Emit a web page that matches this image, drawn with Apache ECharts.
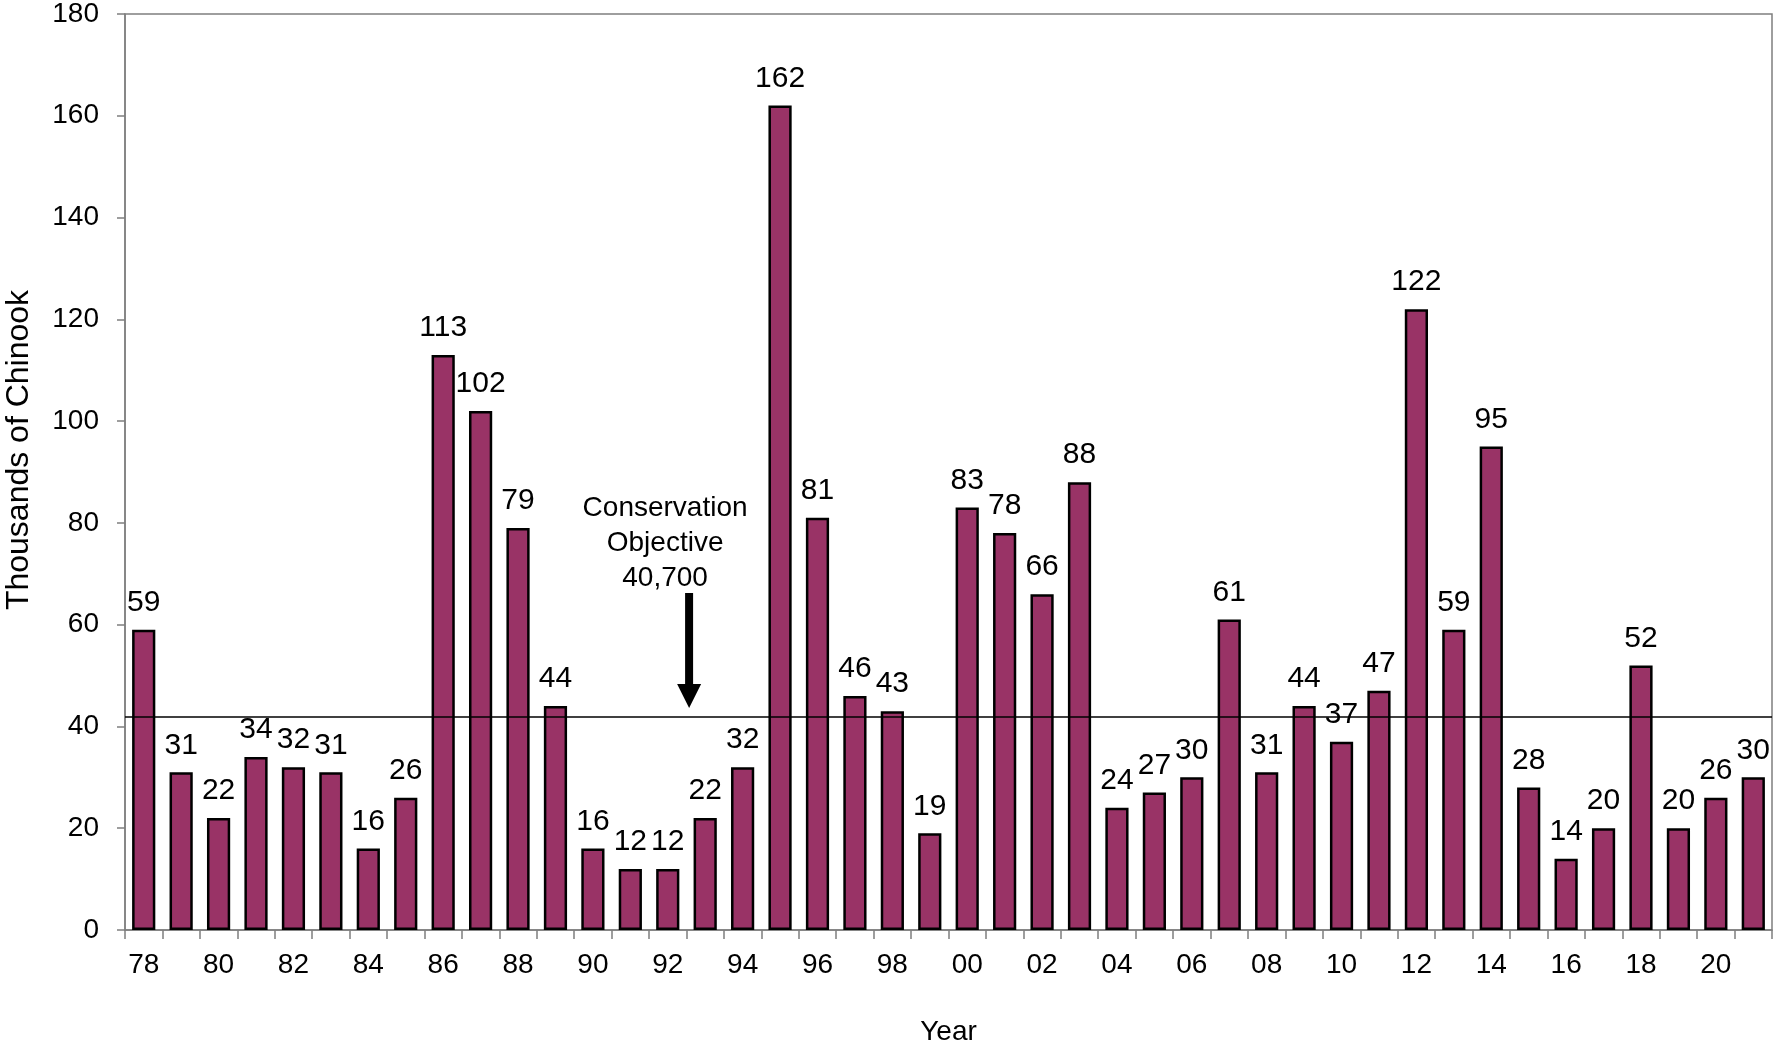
<!DOCTYPE html>
<html>
<head>
<meta charset="utf-8">
<script src="https://cdn.jsdelivr.net/npm/echarts@6/dist/echarts.min.js"></script>
<style>
  html, body { margin: 0; padding: 0; background: #fff; }
  #chart { width: 1773px; height: 1045px; }
</style>
</head>
<body>
<div id="chart"></div>
<script>
// years 1978-2021, shown as two-digit labels
const years = ['78','79','80','81','82','83','84','85','86','87','88','89','90','91','92','93','94','95','96','97','98','99',
  '00','01','02','03','04','05','06','07','08','09','10','11','12','13','14','15','16','17','18','19','20','21'];

// escapement, thousands of chinook
const chinook = [59,31,22,34,32,31,16,26,113,102,79,44,16,12,12,22,32,162,81,46,43,19,
  83,78,66,88,24,27,30,61,31,44,37,47,122,59,95,28,14,20,52,20,26,30];

const yTicks = { min: 0, max: 180, step: 20 };
const objectiveLine = 42;          // where the line sits on the chart
const objectiveText = ['Conservation', 'Objective', '40,700'];

const FONT = '"Liberation Sans", Arial, sans-serif';
const AXIS_GRAY = '#7f7f7f';

const chart = echarts.init(document.getElementById('chart'));

chart.setOption({
  animation: false,
  backgroundColor: '#fff',
  grid: {
    left: 125, right: 1, top: 14, bottom: 115,
    outerBoundsMode: 'none',
    show: true, borderColor: AXIS_GRAY, borderWidth: 1.5
  },
  xAxis: {
    type: 'category',
    data: years,
    name: 'Year',
    nameLocation: 'middle',
    nameGap: 88,
    nameTextStyle: { fontFamily: FONT, fontSize: 28, color: '#000' },
    axisLine: { lineStyle: { color: AXIS_GRAY, width: 1.5 } },
    axisTick: { show: true, interval: 0, length: 9, lineStyle: { color: AXIS_GRAY, width: 1.5 } },
    axisLabel: { interval: 1, margin: 21, fontFamily: FONT, fontSize: 28, color: '#000' }
  },
  yAxis: {
    type: 'value',
    min: yTicks.min,
    max: yTicks.max,
    interval: yTicks.step,
    axisLine: { show: true, lineStyle: { color: AXIS_GRAY, width: 1.5 } },
    axisTick: { show: true, length: 8, lineStyle: { color: AXIS_GRAY, width: 1.5 } },
    splitLine: { show: false },
    axisLabel: { margin: 26, fontFamily: FONT, fontSize: 28, color: '#000' }
  },
  series: [{
    type: 'bar',
    data: chinook,
    barCategoryGap: '38%',
    itemStyle: { color: '#993366', borderColor: '#000', borderWidth: 2.5 },
    label: { show: true, position: 'top', distance: 12, fontFamily: FONT, fontSize: 30, color: '#000' },
    markLine: {
      silent: true,
      symbol: 'none',
      label: { show: false },
      lineStyle: { color: '#000', width: 1.5, type: 'solid' },
      data: [{ yAxis: objectiveLine }]
    }
  }]
});

// annotation: text + arrow pointing down at the line, between 92 and 93
const p92 = chart.convertToPixel({ seriesIndex: 0 }, [14, 0]);
const p93 = chart.convertToPixel({ seriesIndex: 0 }, [15, 0]);
const ax = p92[0] + (p93[0] - p92[0]) * 0.57;
const tipY = chart.convertToPixel({ yAxisIndex: 0 }, 43.6);
const topY = chart.convertToPixel({ yAxisIndex: 0 }, 66.2);

chart.setOption({
  graphic: [
    {
      type: 'text',
      x: ax - 24, y: topY - 102,
      style: {
        text: objectiveText.join('\n'),
        font: '28px ' + FONT,
        fill: '#000',
        align: 'center',
        verticalAlign: 'top',
        lineHeight: 35
      }
    },
    {
      type: 'rect',
      shape: { x: ax - 4, y: topY, width: 8, height: tipY - topY - 22 },
      style: { fill: '#000' }
    },
    {
      type: 'polygon',
      shape: { points: [[ax - 12, tipY - 24], [ax + 12, tipY - 24], [ax, tipY]] },
      style: { fill: '#000' }
    },
    {
      type: 'text',
      x: 19, y: 450,
      rotation: Math.PI / 2,
      style: {
        text: 'Thousands of Chinook',
        font: '32px ' + FONT,
        fill: '#000',
        align: 'center',
        verticalAlign: 'middle'
      }
    }
  ]
});
</script>
</body>
</html>
